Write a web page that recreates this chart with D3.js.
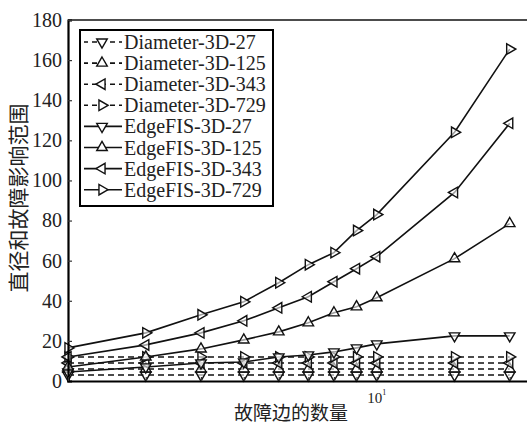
<!DOCTYPE html>
<html>
<head>
<meta charset="utf-8">
<script src="https://cdn.jsdelivr.net/npm/d3@7"></script>
<style>
html,body{margin:0;padding:0;background:#fff;}
svg{display:block;}
</style>
</head>
<body>
<div id="chart"></div>
<script>
// ---- data ----
const xValues = [2, 3, 4, 5, 6, 7, 8, 9, 10, 15, 20];
const diameter27  = [3, 3, 3, 3, 3, 3, 3, 3, 3, 3, 3];
const diameter125 = [6, 6, 6, 6, 6, 6, 6, 6, 6, 6, 6];
const diameter343 = [9, 9, 9, 9, 9, 9, 9, 9, 9, 9, 9];
const diameter729 = [12, 12, 12, 12, 12, 12, 12, 12, 12, 12, 12];
const edge27  = [4.5, 7, 9, 9.5, 12, 13, 14.5, 16.5, 18.5, 22.5, 22.5];
const edge125 = [7, 12, 16, 20.5, 24.5, 29, 34, 37, 41.5, 61, 78.5];
const edge343 = [12, 18, 24, 30, 36.5, 42, 49.5, 56, 62, 94, 128.5];
const edge729 = [16.5, 24, 33, 39.5, 49, 58, 64, 75, 83, 124, 165.5];
const seriesNames = ["Diameter-3D-27","Diameter-3D-125","Diameter-3D-343","Diameter-3D-729",
                     "EdgeFIS-3D-27","EdgeFIS-3D-125","EdgeFIS-3D-343","EdgeFIS-3D-729"];
const yTicks = [0, 20, 40, 60, 80, 100, 120, 140, 160, 180];
const xTitle = "故障边的数量";
const yTitle = "直径和故障影响范围";

const seriesValues = [diameter27, diameter125, diameter343, diameter729, edge27, edge125, edge343, edge729];
const markerRot = [180, 0, -90, 90, 180, 0, -90, 90]; // down, up, left, right
const dashed = [true, true, true, true, false, false, false, false];

const W = 527, H = 426;
const svg = d3.select("#chart").append("svg").attr("width", W).attr("height", H);

const x = d3.scaleLog().domain([2, 22]).range([68, 528]);
const y = d3.scaleLinear().domain([0, 180]).range([381, 20]);

// frame top
svg.append("line").attr("x1", x(2)).attr("x2", x(22)).attr("y1", y(180)).attr("y2", y(180))
  .attr("stroke", "#111").attr("stroke-width", 1.6);

// lines and markers
const line = d3.line().x((d, i) => x(xValues[i])).y(d => y(d));
const sym = d3.symbol().type(d3.symbolTriangle).size(48);

seriesValues.forEach((vals, s) => {
  svg.append("path").attr("d", line(vals)).attr("fill", "none")
    .attr("stroke", "#111").attr("stroke-width", 1.6)
    .attr("stroke-dasharray", dashed[s] ? "6,4" : null);
});
seriesValues.forEach((vals, s) => {
  svg.append("g").selectAll("path").data(vals).join("path")
    .attr("d", sym)
    .attr("transform", (d, i) => `translate(${x(xValues[i])},${y(d)}) rotate(${markerRot[s]})`)
    .attr("fill", "#fff").attr("fill-opacity", 0.6).attr("stroke", "#111").attr("stroke-width", 1.4);
});

// y axis
const yAxis = d3.axisLeft(y).tickValues(yTicks).tickSize(-4).tickPadding(6);
const gy = svg.append("g").attr("transform", `translate(${x(2)},0)`).call(yAxis);
gy.select(".domain").attr("stroke", "#000").attr("stroke-width", 2.2);
gy.selectAll(".tick line").attr("stroke", "#333").attr("stroke-width", 1.2);
gy.selectAll("text").attr("font-family", "'Liberation Serif', serif").attr("font-size", 20).attr("fill", "#222");

// x axis
const xAxis = d3.axisBottom(x).tickValues([2,3,4,5,6,7,8,9,10,20]).tickSize(-4).tickFormat("");
const gx = svg.append("g").attr("transform", `translate(0,${y(0)})`).call(xAxis);
gx.select(".domain").attr("stroke", "#000").attr("stroke-width", 2.2);
gx.selectAll(".tick line").attr("stroke", "#333").attr("stroke-width", 1.2);
const lab = svg.append("text").attr("x", x(10)).attr("y", 403)
  .attr("font-family", "'Liberation Serif', serif").attr("font-size", 15).attr("fill", "#222")
  .attr("text-anchor", "middle");
lab.append("tspan").text("10");
lab.append("tspan").attr("dy", -8).attr("font-size", 8).text("1");

// axis titles
svg.append("text").attr("x", 291).attr("y", 420)
  .attr("font-family", "'Noto Sans CJK SC', sans-serif").attr("font-size", 19).attr("fill", "#222")
  .attr("text-anchor", "middle").text(xTitle);
svg.append("text").attr("transform", "translate(26,198) rotate(-90)")
  .attr("font-family", "'Noto Sans CJK SC', sans-serif").attr("font-size", 21).attr("fill", "#222")
  .attr("text-anchor", "middle").text(yTitle);

// legend
const lg = svg.append("g");
lg.append("rect").attr("x", 80).attr("y", 30).attr("width", 193).attr("height", 176)
  .attr("fill", "#fff").attr("stroke", "#000").attr("stroke-width", 2);
seriesNames.forEach((name, s) => {
  const cy = 42 + s * 21.1;
  lg.append("line").attr("x1", 84).attr("x2", 122).attr("y1", cy).attr("y2", cy)
    .attr("stroke", "#111").attr("stroke-width", 1.6)
    .attr("stroke-dasharray", dashed[s] ? "5,4" : null)
    .attr("stroke-dashoffset", dashed[s] ? 1 : null);
  lg.append("path").attr("d", sym).attr("transform", `translate(102,${cy}) rotate(${markerRot[s]})`)
    .attr("fill", "#fff").attr("stroke", "#111").attr("stroke-width", 1.4);
  lg.append("text").attr("x", 124).attr("y", cy).attr("dy", "0.35em")
    .attr("font-family", "'Liberation Serif', serif").attr("font-size", 20).attr("fill", "#222")
    .text(name);
});
</script>
</body>
</html>
